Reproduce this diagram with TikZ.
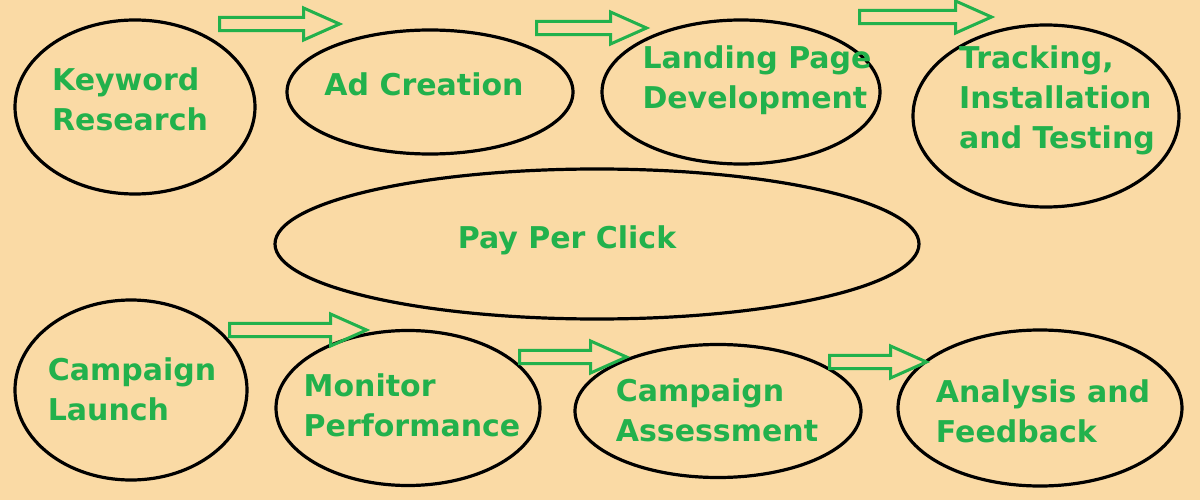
\documentclass[tikz,border=0pt]{standalone}
\usepackage{fontspec}
\setmainfont{DejaVu Sans}
\usetikzlibrary{shapes.geometric,shapes.arrows}
\definecolor{bg}{RGB}{250,218,165}
\definecolor{gr}{RGB}{34,177,76}
\tikzset{
 el/.style={ellipse,draw=black,line width=3.2pt,inner sep=0pt},
 lab/.style={text=gr,font=\bfseries\fontsize{30}{40}\selectfont,align=left},
 arr/.style={single arrow,draw=gr,line width=3pt,inner sep=5pt,minimum width=32pt,
   single arrow head extend=9pt,single arrow tip angle=48,anchor=west}
}
\begin{document}
\begin{tikzpicture}[x=1pt,y=-1pt]
\fill[bg] (0,0) rectangle (1200,500);
\useasboundingbox (0,0) rectangle (1200,500);
\node[el,minimum width=240pt,minimum height=174pt] (e1) at (135,107) {};
\node[el,minimum width=286pt,minimum height=124pt] (e2) at (430,92) {};
\node[el,minimum width=278pt,minimum height=144pt] (e3) at (741,92) {};
\node[el,minimum width=266pt,minimum height=182pt] (e4) at (1046,116) {};
\node[el,minimum width=644pt,minimum height=150pt] (e5) at (597,244) {};
\node[el,minimum width=232pt,minimum height=180pt] (e6) at (131,390) {};
\node[el,minimum width=264pt,minimum height=155pt] (e7) at (408,408) {};
\node[el,minimum width=286pt,minimum height=133pt] (e8) at (718,411) {};
\node[el,minimum width=284pt,minimum height=156pt] (e9) at (1040,408) {};
\node[lab] (t1) at (130,99) {Keyword\\Research};
\node[lab] (t2) at (424,84) {Ad Creation};
\node[lab] (t3) at (757,80) {Landing Page\\Development};
\node[lab] (t4) at (1057,100) {Tracking,\\Installation\\and Testing};
\node[lab] (t5) at (567,240) {Pay Per Click};
\node[lab] (t6) at (132,389) {Campaign\\Launch};
\node[lab] (t7) at (412,405) {Monitor\\Performance};
\node[lab] (t8) at (717,410) {Campaign\\Assessment};
\node[lab] (t9) at (1043,411) {Analysis and\\Feedback};
\node[arr,minimum height=120pt] (a1) at (218,24) {};
\node[arr,minimum height=110pt] (a2) at (535,28) {};
\node[arr,minimum height=132pt] (a3) at (858,17) {};
\node[arr,minimum height=137pt] (a4) at (228,330) {};
\node[arr,minimum height=107pt] (a5) at (518,357) {};
\node[arr,minimum height=97pt] (a6) at (828,362) {};
\end{tikzpicture}
\end{document}
